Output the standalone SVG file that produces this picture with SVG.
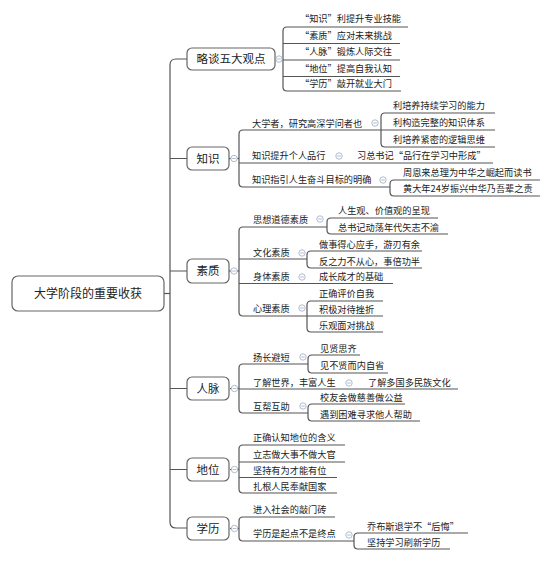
<svg xmlns="http://www.w3.org/2000/svg" xmlns:xlink="http://www.w3.org/1999/xlink" width="553" height="561" viewBox="0 0 553 561">
<style>
.ln{fill:none;stroke:#555;stroke-width:1.2}
.box{fill:#fff;stroke:#666;stroke-width:1.2}
.t{font-family:"Noto Sans CJK SC","Noto Sans",sans-serif;font-size:9.2px;fill:#222}
.m{font-size:11.5px;text-anchor:middle}
.r{font-size:12px;text-anchor:middle}
</style>
<defs>
<g id="cc"><circle r="3.2" fill="#fff" stroke="#a6b4cc" stroke-width="0.9"/><line x1="-1.8" x2="1.8" y1="0" y2="0" stroke="#a6b4cc" stroke-width="0.9"/></g>
</defs>
<rect width="553" height="561" fill="#fff"/>
<g id="connectors">
<path class="ln" d="M164,293.5 H170"/>
<path class="ln" d="M187,59 H176 Q170,59 170,65 V522 Q170,528 176,528 H187"/>
<path class="ln" d="M170,158.5 H187 M170,271 H187 M170,388.5 H187 M170,469.5 H187"/>
<!-- 略谈 -->
<path class="ln" d="M275,59 H283"/>
<path class="ln" d="M408,27 H287 Q283,27 283,31 V87 Q283,91 287,91 H401"/>
<path class="ln" d="M283,43.5 H400 M283,60 H400 M283,76.5 H400"/>
<!-- 知识 -->
<path class="ln" d="M229,158.5 H239"/>
<path class="ln" d="M381,130 H243 Q239,130 239,134 V183 Q239,187 243,187 H390"/>
<path class="ln" d="M239,163 H493"/>
<path class="ln" d="M495,113 H385 Q381,113 381,117 V143 Q381,147 385,147 H495 M381,130 H495"/>
<path class="ln" d="M540,180 H394 Q390,180 390,184 V192 Q390,196 394,196 H540"/>
<!-- 素质 -->
<path class="ln" d="M229,271 H239"/>
<path class="ln" d="M327,227 H243 Q239,227 239,231 V312 Q239,316 243,316 H307"/>
<path class="ln" d="M239,259 H307 M239,283.5 H393"/>
<path class="ln" d="M438,218 H331 Q327,218 327,222 V230 Q327,234 331,234 H448"/>
<path class="ln" d="M422,251 H311 Q307,251 307,255 V264 Q307,268 311,268 H422"/>
<path class="ln" d="M383,301 H311 Q307,301 307,305 V328 Q307,332 311,332 H383 M307,316 H383"/>
<!-- 人脉 -->
<path class="ln" d="M230,388.5 H239"/>
<path class="ln" d="M308,364 H243 Q239,364 239,368 V409 Q239,413 243,413 H308"/>
<path class="ln" d="M239,389 H458"/>
<path class="ln" d="M360,355 H312 Q308,355 308,359 V369 Q308,373 312,373 H388"/>
<path class="ln" d="M405,404 H312 Q308,404 308,408 V417 Q308,421 312,421 H420"/>
<!-- 地位 -->
<path class="ln" d="M230,469.5 H239"/>
<path class="ln" d="M345,445 H243 Q239,445 239,449 V489 Q239,493 243,493 H337"/>
<path class="ln" d="M239,462 H345 M239,477.5 H337"/>
<!-- 学历 -->
<path class="ln" d="M230,528.5 H239"/>
<path class="ln" d="M335,517 H243 Q239,517 239,521 V537 Q239,541 243,541 H354"/>
<path class="ln" d="M468,533 H358 Q354,533 354,537 V545 Q354,549 358,549 H450"/>
</g>
<g id="root"><rect class="box" x="12" y="276" width="152" height="35" rx="6"/><text class="t r" x="88" y="297.5">大学阶段的重要收获</text></g>
<g id="n-lue"><rect class="box" x="187" y="48" width="88" height="22" rx="5"/><text class="t m" x="231" y="63">略谈五大观点</text><use xlink:href="#cc" x="279" y="59"/></g>
<g id="n-lue-1"><text class="t" x="300" y="22">“知识”利提升专业技能</text></g>
<g id="n-lue-2"><text class="t" x="300" y="38.5">“素质”应对未来挑战</text></g>
<g id="n-lue-3"><text class="t" x="300" y="55">“人脉”锻炼人际交往</text></g>
<g id="n-lue-4"><text class="t" x="300" y="71.5">“地位”提高自我认知</text></g>
<g id="n-lue-5"><text class="t" x="300" y="87">“学历”敲开就业大门</text></g>

<g id="n-zs"><rect class="box" x="187" y="147" width="42" height="23" rx="5"/><text class="t m" x="208" y="162.5">知识</text><use xlink:href="#cc" x="234" y="158.5"/></g>
<g id="n-zs-1"><text class="t" x="252" y="126.5">大学者，研究高深学问者也</text><use xlink:href="#cc" x="375" y="123"/></g>
<g id="n-zs-1a"><text class="t" x="393" y="108.5">利培养持续学习的能力</text></g>
<g id="n-zs-1b"><text class="t" x="393" y="125.5">利构造完整的知识体系</text></g>
<g id="n-zs-1c"><text class="t" x="393" y="142.5">利培养紧密的逻辑思维</text></g>
<g id="n-zs-2"><text class="t" x="252" y="159">知识提升个人品行</text><use xlink:href="#cc" x="339" y="156"/></g>
<g id="n-zs-2a"><text class="t" x="357" y="159">习总书记“品行在学习中形成”</text></g>
<g id="n-zs-3"><text class="t" x="252" y="183">知识指引人生奋斗目标的明确</text><use xlink:href="#cc" x="383" y="180"/></g>
<g id="n-zs-3a"><text class="t" x="403" y="175.5">周恩来总理为中华之崛起而读书</text></g>
<g id="n-zs-3b"><text class="t" x="403" y="192">黄大年24岁振兴中华乃吾辈之责</text></g>

<g id="n-sz"><rect class="box" x="187" y="259" width="42" height="24" rx="5"/><text class="t m" x="208" y="275">素质</text><use xlink:href="#cc" x="234" y="271"/></g>
<g id="n-sz-1"><text class="t" x="253" y="222.5">思想道德素质</text><use xlink:href="#cc" x="320" y="219"/></g>
<g id="n-sz-1a"><text class="t" x="338" y="213.5">人生观、价值观的呈现</text></g>
<g id="n-sz-1b"><text class="t" x="338" y="230.5">总书记动荡年代矢志不渝</text></g>
<g id="n-sz-2"><text class="t" x="253" y="255.5">文化素质</text><use xlink:href="#cc" x="302" y="253"/></g>
<g id="n-sz-2a"><text class="t" x="319" y="247.5">做事得心应手，游刃有余</text></g>
<g id="n-sz-2b"><text class="t" x="319" y="264.5">反之力不从心，事倍功半</text></g>
<g id="n-sz-3"><text class="t" x="253" y="280">身体素质</text><use xlink:href="#cc" x="302" y="277"/></g>
<g id="n-sz-3a"><text class="t" x="319" y="280">成长成才的基础</text></g>
<g id="n-sz-4"><text class="t" x="253" y="311.5">心理素质</text><use xlink:href="#cc" x="302" y="308"/></g>
<g id="n-sz-4a"><text class="t" x="319" y="297">正确评价自我</text></g>
<g id="n-sz-4b"><text class="t" x="319" y="312.5">积极对待挫折</text></g>
<g id="n-sz-4c"><text class="t" x="319" y="328.5">乐观面对挑战</text></g>

<g id="n-rm"><rect class="box" x="187" y="377" width="42" height="23" rx="5"/><text class="t m" x="208" y="392.5">人脉</text><use xlink:href="#cc" x="234.5" y="388.5"/></g>
<g id="n-rm-1"><text class="t" x="253" y="360.5">扬长避短</text><use xlink:href="#cc" x="303" y="357"/></g>
<g id="n-rm-1a"><text class="t" x="320" y="351.5">见贤思齐</text></g>
<g id="n-rm-1b"><text class="t" x="320" y="368.5">见不贤而内自省</text></g>
<g id="n-rm-2"><text class="t" x="253" y="385.5">了解世界，丰富人生</text><use xlink:href="#cc" x="349" y="383"/></g>
<g id="n-rm-2a"><text class="t" x="368" y="385.5">了解多国多民族文化</text></g>
<g id="n-rm-3"><text class="t" x="253" y="409.5">互帮互助</text><use xlink:href="#cc" x="303" y="406"/></g>
<g id="n-rm-3a"><text class="t" x="320" y="401">校友会做慈善做公益</text></g>
<g id="n-rm-3b"><text class="t" x="320" y="417.5">遇到困难寻求他人帮助</text></g>

<g id="n-dw"><rect class="box" x="187" y="458" width="42" height="23" rx="5"/><text class="t m" x="208" y="473.5">地位</text><use xlink:href="#cc" x="234.5" y="469.5"/></g>
<g id="n-dw-1"><text class="t" x="253" y="441">正确认知地位的含义</text></g>
<g id="n-dw-2"><text class="t" x="253" y="457.5">立志做大事不做大官</text></g>
<g id="n-dw-3"><text class="t" x="253" y="473.5">坚持有为才能有位</text></g>
<g id="n-dw-4"><text class="t" x="253" y="489.5">扎根人民奉献国家</text></g>

<g id="n-xl"><rect class="box" x="187" y="517" width="42" height="23" rx="5"/><text class="t m" x="208" y="532.5">学历</text><use xlink:href="#cc" x="234.5" y="528.5"/></g>
<g id="n-xl-1"><text class="t" x="253" y="512.5">进入社会的敲门砖</text></g>
<g id="n-xl-2"><text class="t" x="253" y="536.5">学历是起点不是终点</text><use xlink:href="#cc" x="349" y="535"/></g>
<g id="n-xl-2a"><text class="t" x="367" y="529.5">乔布斯退学不“后悔”</text></g>
<g id="n-xl-2b"><text class="t" x="367" y="545.5">坚持学习刷新学历</text></g>
</svg>
